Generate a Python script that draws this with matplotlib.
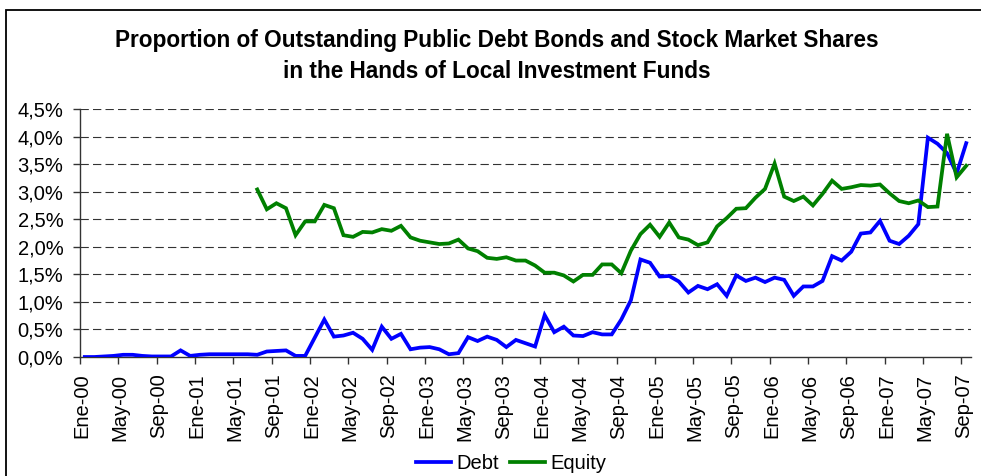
import numpy as np
import matplotlib
matplotlib.use('Agg')
import matplotlib.pyplot as plt
from matplotlib.patches import Rectangle
from matplotlib.ticker import FixedLocator, FuncFormatter

plt.rcParams['font.family'] = ['Liberation Sans', 'DejaVu Sans']
plt.rcParams['lines.scale_dashes'] = False

# ---- datos mensuales, Ene-00 .. Sep-07 (% del total en circulación) ----
debt = [0.00, 0.00, 0.01, 0.02, 0.04, 0.04, 0.02, 0.01, 0.01, 0.01,
        0.12, 0.02, 0.04, 0.05, 0.05, 0.05, 0.05, 0.05, 0.04, 0.10,
        0.11, 0.12, 0.02, 0.02, 0.35, 0.68, 0.37, 0.39, 0.44, 0.33,
        0.13, 0.55, 0.33, 0.42, 0.14, 0.17, 0.18, 0.14, 0.05, 0.07,
        0.36, 0.29, 0.37, 0.31, 0.18, 0.31, 0.25, 0.19, 0.76, 0.45,
        0.55, 0.39, 0.38, 0.45, 0.41, 0.41, 0.68, 1.03, 1.77, 1.71,
        1.46, 1.47, 1.37, 1.17, 1.29, 1.23, 1.32, 1.11, 1.48, 1.38,
        1.44, 1.36, 1.44, 1.40, 1.11, 1.28, 1.28, 1.38, 1.83, 1.75,
        1.91, 2.24, 2.26, 2.47, 2.11, 2.05, 2.20, 2.41, 3.98, 3.87,
        3.70, 3.33, 3.88]

# la serie de acciones empieza en Jul-01
EQUITY_START = 18
equity = [3.04, 2.68, 2.79, 2.70, 2.21, 2.46, 2.46, 2.76, 2.70, 2.21,
          2.18, 2.27, 2.26, 2.32, 2.29, 2.38, 2.17, 2.11, 2.08, 2.05,
          2.06, 2.13, 1.97, 1.92, 1.80, 1.78, 1.81, 1.75, 1.75, 1.66,
          1.53, 1.53, 1.48, 1.37, 1.49, 1.49, 1.68, 1.68, 1.52, 1.93,
          2.23, 2.40, 2.18, 2.44, 2.17, 2.13, 2.03, 2.08, 2.37, 2.52,
          2.69, 2.70, 2.89, 3.05, 3.51, 2.91, 2.83, 2.91, 2.75, 2.96,
          3.20, 3.05, 3.08, 3.12, 3.11, 3.13, 2.97, 2.83, 2.79, 2.84,
          2.72, 2.73, 4.05, 3.26, 3.47]

tick_labels = ['Ene-00', 'May-00', 'Sep-00', 'Ene-01', 'May-01', 'Sep-01',
               'Ene-02', 'May-02', 'Sep-02', 'Ene-03', 'May-03', 'Sep-03',
               'Ene-04', 'May-04', 'Sep-04', 'Ene-05', 'May-05', 'Sep-05',
               'Ene-06', 'May-06', 'Sep-06', 'Ene-07', 'May-07', 'Sep-07']
y_ticks = [0.0, 0.5, 1.0, 1.5, 2.0, 2.5, 3.0, 3.5, 4.0, 4.5]

x = np.arange(len(debt))
x_eq = np.arange(EQUITY_START, EQUITY_START + len(equity))

fig = plt.figure(figsize=(9.81, 4.76), dpi=100)
ax = fig.add_axes([80 / 981, 1 - 357 / 476, 891 / 981, 248 / 476])

# rejilla horizontal discontinua
for v in y_ticks[1:]:
    ax.axhline(v, color='#333333', lw=0.8, dashes=(6, 3), zorder=1)

ax.plot(x, debt, color='#0000FF', lw=2.7, label='Debt', zorder=3,
        solid_joinstyle='miter')
ax.plot(x_eq, equity, color='#008000', lw=2.7, label='Equity', zorder=3,
        solid_joinstyle='miter')

ax.set_xlim(-0.5, len(debt) - 0.5)
ax.set_ylim(0, 4.5)

# marcas entre categorías, etiquetas cada 4 meses
ax.xaxis.set_major_locator(FixedLocator(np.arange(-0.5, len(debt) - 1, 4)))
ax.xaxis.set_minor_locator(FixedLocator(np.arange(0, len(debt), 4) - 0.3))
ax.xaxis.set_major_formatter(FuncFormatter(lambda v, p: ''))
ax.set_xticklabels(tick_labels, minor=True, rotation=90, fontsize=14.5)
ax.tick_params(axis='x', which='major', direction='out', length=5,
               width=1, color='#333333')
ax.tick_params(axis='x', which='minor', length=0, pad=12)

ax.set_yticks(y_ticks)
ax.yaxis.set_major_formatter(FuncFormatter(lambda v, p: f'{v:.1f}%'.replace('.', ',')))
ax.tick_params(axis='y', direction='out', length=5, width=1,
               color='#333333', labelsize=14.5, pad=7)

for side in ['top', 'right']:
    ax.spines[side].set_visible(False)
for side in ['left', 'bottom']:
    ax.spines[side].set_color('#333333')
    ax.spines[side].set_linewidth(1)

fig.text(0.506, 0.882,
         'Proportion of Outstanding Public Debt Bonds and Stock Market Shares\n'
         'in the Hands of Local Investment Funds',
         ha='center', va='center', fontsize=16.3, fontweight='bold',
         linespacing=1.42)

fig.legend(loc='center', bbox_to_anchor=(0.521, 0.027), ncol=2,
           frameon=False, fontsize=14.5, handlelength=1.75,
           handletextpad=0.25, columnspacing=0.55, borderpad=0)

# marco exterior del gráfico
fig.patches.append(Rectangle((6 / 981, -0.1), 2, 1 - 10 / 476 + 0.1,
                             transform=fig.transFigure, fill=False,
                             ec='black', lw=1.3))

fig.savefig('out.png', dpi=100)
